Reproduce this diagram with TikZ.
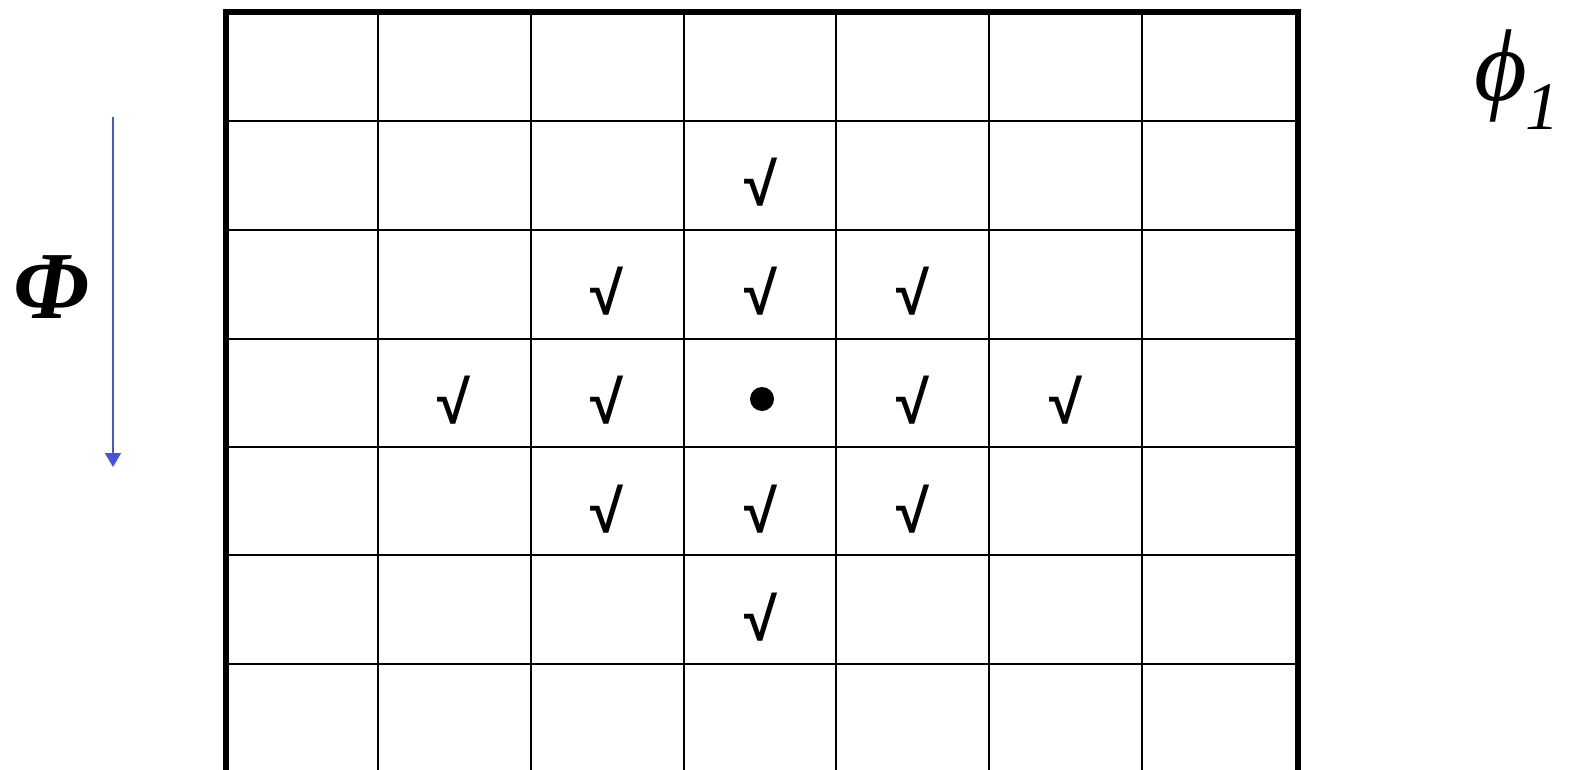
\documentclass[tikz,border=0pt]{standalone}
\usepackage{fontspec}
\setmainfont{Liberation Serif}
\newfontfamily\chkfont{Liberation Sans}
\usetikzlibrary{arrows.meta}
\definecolor{arrowblue}{RGB}{70,82,222}
\begin{document}
\begin{tikzpicture}[x=1pt,y=-1pt,
  gridline/.style={line width=2pt,black},
  border/.style={line width=5.5pt,black},
  chk/.style={font=\chkfont\bfseries\fontsize{60}{60}\selectfont,inner sep=0pt},
  lbl/.style={inner sep=0pt}]
\useasboundingbox (0,0) rectangle (1573,770);
% inner grid lines
\foreach \x in {378,531,684,836,989,1142}
  \draw[gridline] (\x,12) -- (\x,772);
\foreach \y in {121,230,339,447,555,664}
  \draw[gridline] (226,\y) -- (1298,\y);
% outer border
\draw[border] (226,775) -- (226,12) -- (1298,12) -- (1298,775);
% checks
\node[chk] (c1) at (761,182) {√};
\node[chk] (c2) at (607,291) {√};
\node[chk] (c3) at (761,291) {√};
\node[chk] (c4) at (913,291) {√};
\node[chk] (c5) at (454,400) {√};
\node[chk] (c6) at (607,400) {√};
\node[chk] (c8) at (913,400) {√};
\node[chk] (c9) at (1066,400) {√};
\node[chk] (c10) at (607,509) {√};
\node[chk] (c11) at (761,509) {√};
\node[chk] (c12) at (913,509) {√};
\node[chk] (c13) at (761,617) {√};
\fill (762,399) circle (12);
\node[coordinate] (d) at (762,399) {};
% arrow
\coordinate (a1) at (113,117);
\coordinate (a2) at (113,467);
\draw[arrowblue,line width=1.5pt,-{Triangle[width=16pt,length=14pt]}] (a1) -- (a2);
% labels
\node[lbl,font=\fontsize{96}{96}\selectfont\bfseries\itshape] (Phi) at (51,287) {Φ};
\node[lbl,anchor=base west,font=\fontsize{102}{102}\selectfont\itshape] (phi) at (1474,101) {ϕ\kern-2pt\raisebox{-29pt}{\fontsize{68}{68}\selectfont 1}};
\end{tikzpicture}
\end{document}
